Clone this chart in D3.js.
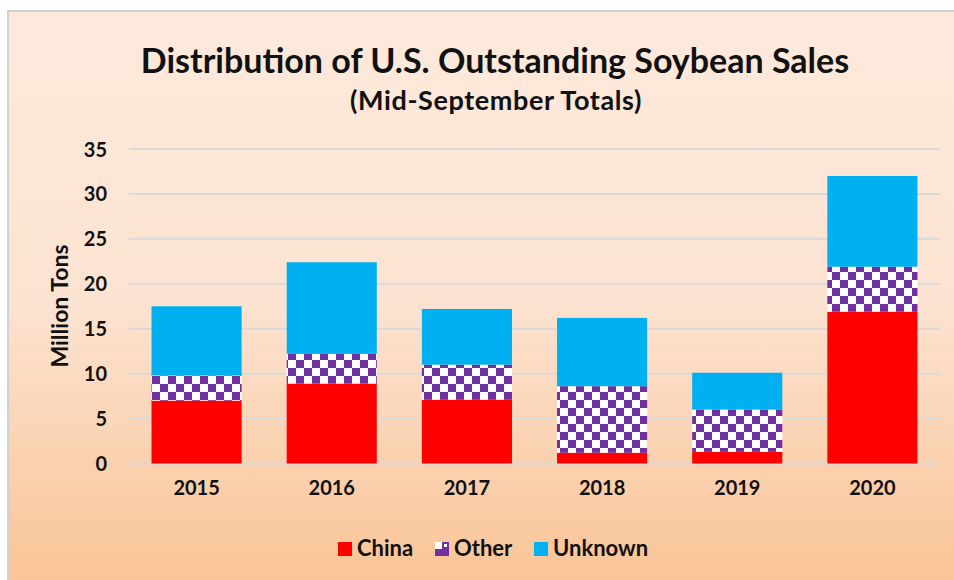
<!doctype html>
<html>
<head>
<meta charset="utf-8"/>
<title>Distribution of U.S. Outstanding Soybean Sales</title>
<style>
body{margin:0;background:#fff;}
text{font-family:Lato,"Open Sans",sans-serif;font-weight:bold;fill:#111;}
</style>
<script src="https://d3js.org/d3.v7.min.js"></script>
</head>
<body>
<script>
// data (million tons)
var years = ["2015","2016","2017","2018","2019","2020"];
var china   = [7.0, 8.9, 7.1, 1.2, 1.3, 16.9];
var other   = [2.8, 3.3, 3.9, 7.4, 4.7, 5.0];
var unknown = [7.7, 10.2, 6.2, 7.6, 4.1, 10.1];
var yTicks = [0,5,10,15,20,25,30,35];
var seriesNames = ["China","Other","Unknown"];

var W = 954, H = 580;
var svg = d3.select("body").append("svg")
  .attr("width", W).attr("height", H);

var defs = svg.append("defs");
var grad = defs.append("linearGradient").attr("id","bg")
  .attr("x1",0).attr("y1",0).attr("x2",0).attr("y2",1);
grad.append("stop").attr("offset","0%").attr("stop-color","#fde9dc");
grad.append("stop").attr("offset","50%").attr("stop-color","#fce3d1");
grad.append("stop").attr("offset","100%").attr("stop-color","#f9c394");

// checkerboard for "Other"
var pat = defs.append("pattern").attr("id","check")
  .attr("patternUnits","userSpaceOnUse").attr("width",16).attr("height",16);
pat.append("rect").attr("width",16).attr("height",16).attr("fill","#fff");
pat.append("rect").attr("x",0).attr("y",0).attr("width",8).attr("height",8).attr("fill","#7030a0");
pat.append("rect").attr("x",8).attr("y",8).attr("width",8).attr("height",8).attr("fill","#7030a0");

var pat2 = defs.append("pattern").attr("id","checkSmall")
  .attr("patternUnits","userSpaceOnUse").attr("width",14).attr("height",14)
  .attr("x",435).attr("y",542);
pat2.append("rect").attr("width",14).attr("height",14).attr("fill","#7030a0");
pat2.append("rect").attr("x",0).attr("y",0).attr("width",7).attr("height",7).attr("fill","#fff");
pat2.append("rect").attr("x",9).attr("y",2).attr("width",3).attr("height",3).attr("fill","#fff");

// chart area background + border
svg.append("rect").attr("x",8).attr("y",11).attr("width",W).attr("height",H)
  .attr("fill","url(#bg)").attr("stroke","#d0d0d0").attr("stroke-width",2);

// titles
svg.append("text").attr("x",495).attr("y",73).attr("text-anchor","middle")
  .attr("font-size",34).text("Distribution of U.S. Outstanding Soybean Sales");
svg.append("text").attr("x",496).attr("y",110).attr("text-anchor","middle")
  .attr("font-size",27).attr("letter-spacing",0.6).text("(Mid-September Totals)");

var x = d3.scaleBand().domain(years).range([129, 940])
  .paddingInner(1/3).paddingOuter(1/6);
var y = d3.scaleLinear().domain([0,35]).range([463.5,149]);

// gridlines
svg.append("g").selectAll("line").data(yTicks).enter().append("line")
  .attr("x1",129).attr("x2",940)
  .attr("y1",function(d){return y(d);}).attr("y2",function(d){return y(d);})
  .attr("stroke","#d9d9d9").attr("stroke-width",2);

// y axis labels
var yAxis = d3.axisLeft(y).tickValues(yTicks).tickSize(0).tickPadding(0);
var gy = svg.append("g").attr("transform","translate(107,0)").call(yAxis);
gy.select(".domain").remove();
gy.selectAll("text").attr("font-size",20).attr("dy","0.35em")
  .style("font-family","Lato,sans-serif").style("font-weight","bold").attr("fill","#111");

// x axis labels
var xAxis = d3.axisBottom(x).tickSize(0).tickPadding(0);
var gx = svg.append("g").attr("transform","translate(0,481)").call(xAxis);
gx.select(".domain").remove();
gx.selectAll("text").attr("font-size",20).attr("dy","0.71em")
  .style("font-family","Lato,sans-serif").style("font-weight","bold").attr("fill","#111");

// y title
svg.append("text").attr("transform","translate(68,306) rotate(-90)")
  .attr("text-anchor","middle").attr("font-size",23).text("Million Tons");

// stacked bars
var rows = years.map(function(yr,i){
  return {year:yr, China:china[i], Other:other[i], Unknown:unknown[i]};
});
var stack = d3.stack().keys(seriesNames)(rows);
var fills = {China:"#ff0000", Other:"url(#check)", Unknown:"#00b0f0"};

svg.append("g").selectAll("g").data(stack).enter().append("g")
  .attr("fill",function(s){return fills[s.key];})
  .selectAll("rect").data(function(s){return s;}).enter().append("rect")
  .attr("x",function(d){return x(d.data.year);})
  .attr("width",x.bandwidth())
  .attr("y",function(d){return y(d[1]);})
  .attr("height",function(d){return y(d[0]) - y(d[1]);});

// legend
var legendItems = [
  {name:"China", fill:"#ff0000", x:338},
  {name:"Other", fill:"url(#checkSmall)", x:435},
  {name:"Unknown", fill:"#00b0f0", x:534}
];
var lg = svg.append("g").selectAll("g").data(legendItems).enter().append("g");
lg.append("rect").attr("x",function(d){return d.x;}).attr("y",542)
  .attr("width",14).attr("height",14).attr("fill",function(d){return d.fill;});
lg.append("text").attr("x",function(d){return d.x+19;}).attr("y",556)
  .attr("font-size",22).text(function(d){return d.name;});
</script>
</body>
</html>
